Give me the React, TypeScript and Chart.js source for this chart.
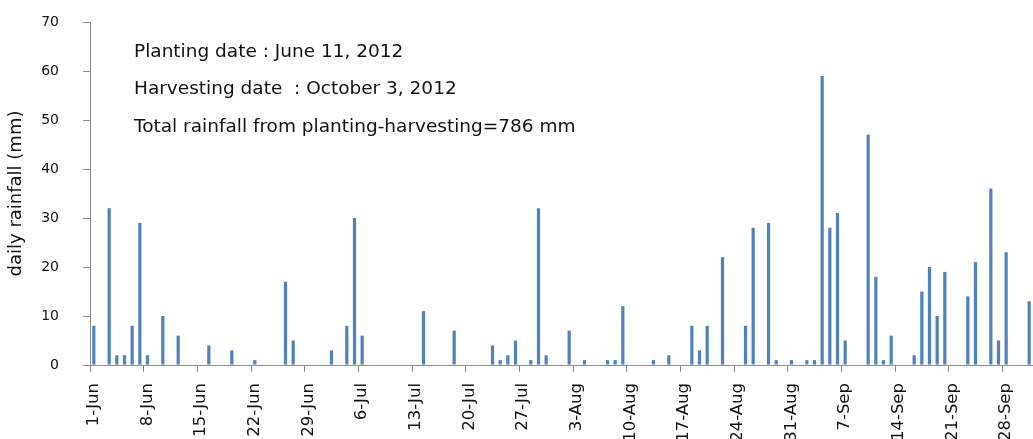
import { useEffect, useRef } from 'react';
import { Chart, registerables } from 'chart.js';

Chart.register(...registerables);

// ---- data -------------------------------------------------------------
const months = ['Jun', 'Jul', 'Aug', 'Sep', 'Oct'];
const monthDays = [30, 31, 31, 30, 1];
const categories: string[] = [];
months.forEach((m, k) => {
  for (let d = 1; d <= monthDays[k]; d++) categories.push(`${d}-${m}`);
});

// daily rainfall (mm), 1-Jun ... 1-Oct 2012
const rainfall = [
  8, 0, 32, 2, 2, 8, 29, 2, 0, 10,
  0, 6, 0, 0, 0, 4, 0, 0, 3, 0,
  0, 1, 0, 0, 0, 17, 5, 0, 0, 0,
  0, 3, 0, 8, 30, 6, 0, 0, 0, 0,
  0, 0, 0, 11, 0, 0, 0, 7, 0, 0,
  0, 0, 4, 1, 2, 5, 0, 1, 32, 2,
  0, 0, 7, 0, 1, 0, 0, 1, 1, 12,
  0, 0, 0, 1, 0, 2, 0, 0, 8, 3,
  8, 0, 22, 0, 0, 8, 28, 0, 29, 1,
  0, 1, 0, 1, 1, 59, 28, 31, 5, 0,
  0, 47, 18, 1, 6, 0, 0, 2, 15, 20,
  10, 19, 0, 0, 14, 21, 0, 36, 5, 23,
  0, 0, 13,
];

const yMin = 0;
const yMax = 70;
const yStep = 10;
const labelEvery = 7;

const yTitle = 'daily rainfall (mm)';
const notes = [
  'Planting date : June 11, 2012',
  'Harvesting date  : October 3, 2012',
  'Total rainfall from planting-harvesting=786 mm',
];

// ---- styles -----------------------------------------------------------
const FONT = '"DejaVu Sans", Verdana, sans-serif';
const BAR = '#4f81bd';
const AXIS = '#8c8c8c';
const TEXT = '#111111';

const notesPlugin = {
  id: 'notes',
  afterDraw(chart: any) {
    const { ctx, chartArea } = chart;
    ctx.save();
    ctx.font = `18.5px ${FONT}`;
    ctx.fillStyle = TEXT;
    ctx.textBaseline = 'alphabetic';
    ctx.textAlign = 'left';
    notes.forEach((t, i) => {
      ctx.fillText(t, chartArea.left + 44, 56.5 + i * 37.8);
    });
    ctx.restore();
  },
};

export default function App() {
  const ref = useRef<HTMLCanvasElement | null>(null);

  useEffect(() => {
    if (!ref.current) return;
    const chart = new Chart(ref.current, {
      type: 'bar',
      data: {
        labels: categories,
        datasets: [
          {
            data: rainfall,
            backgroundColor: BAR,
            borderWidth: 0,
            barPercentage: 0.42,
            categoryPercentage: 1,
          },
        ],
      },
      options: {
        animation: false,
        responsive: true,
        maintainAspectRatio: false,
        layout: { padding: { top: 22, left: 0, right: 0, bottom: 0 } },
        plugins: {
          legend: { display: false },
          tooltip: { enabled: false },
          title: { display: false },
        },
        scales: {
          x: {
            type: 'category',
            offset: true,
            afterFit: (scale: any) => {
              scale.height = 74;
              scale.paddingLeft = 0;
              scale.paddingRight = 0;
            },
            border: { display: true, color: AXIS, width: 1 },
            grid: {
              display: true,
              offset: true,
              drawOnChartArea: false,
              drawTicks: true,
              tickLength: 7,
              color: (c: any) =>
                c.index !== undefined && c.index % labelEvery === 0 ? AXIS : 'rgba(0,0,0,0)',
            },
            ticks: {
              autoSkip: false,
              minRotation: 90,
              maxRotation: 90,
              padding: 11,
              color: TEXT,
              font: { family: FONT, size: 16.5 },
              callback: (_v: any, i: number) => (i % labelEvery === 0 ? categories[i] : ''),
            },
          },
          y: {
            min: yMin,
            max: yMax,
            afterFit: (scale: any) => {
              scale.width = 90;
              scale.paddingTop = 0;
              scale.paddingBottom = 0;
            },
            border: { display: true, color: AXIS, width: 1 },
            grid: {
              display: true,
              drawOnChartArea: false,
              drawTicks: true,
              tickLength: 7,
              color: AXIS,
            },
            ticks: {
              stepSize: yStep,
              padding: 24,
              color: TEXT,
              font: { family: FONT, size: 14 },
            },
            title: {
              display: true,
              text: yTitle,
              color: TEXT,
              padding: { top: 6, bottom: 0 },
              font: { family: FONT, size: 18 },
            },
          },
        },
      },
      plugins: [notesPlugin],
    });
    return () => chart.destroy();
  }, []);

  return (
    <div
      style={{
        position: 'fixed',
        left: 0,
        top: 0,
        width: 1033,
        height: 439,
        overflow: 'hidden',
        background: '#ffffff',
      }}
    >
      <canvas ref={ref} />
    </div>
  );
}
